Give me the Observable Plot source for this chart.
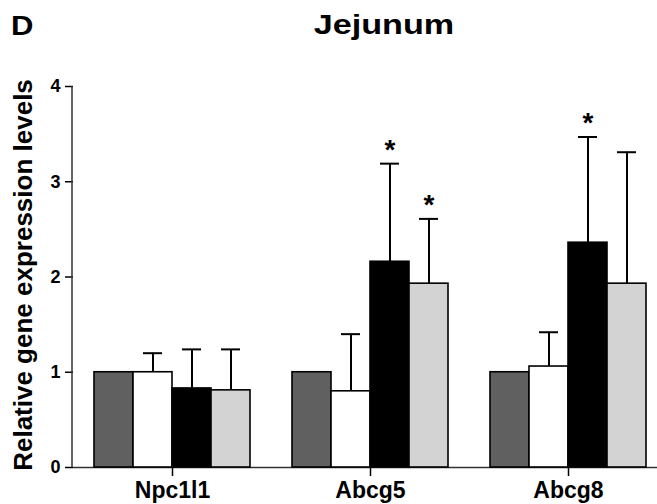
<!DOCTYPE html>
<html>
<head>
<meta charset="utf-8">
<script src="https://cdn.jsdelivr.net/npm/d3@7"></script>
<script src="https://cdn.jsdelivr.net/npm/@observablehq/plot@0.6"></script>
<style>
  body { margin: 0; background: #fff; }
  #wrap { position: relative; width: 657px; height: 504px; overflow: hidden; font-family: Arial, "Liberation Sans", sans-serif; background: #fff; }
  #panel { position: absolute; left: 11px; top: 13px; font-size: 27px; line-height: 27px; font-weight: bold; transform: scaleX(1.15); transform-origin: left center; }
  #title { position: absolute; left: 284px; width: 200px; top: 11px; font-size: 28px; line-height: 28px; font-weight: bold; text-align: center; transform: scaleX(1.22); transform-origin: center center; }
  #chart { position: absolute; left: 0; top: 0; }
</style>
</head>
<body>
<div id="wrap">
  <div id="chart"></div>
  <div id="panel">D</div>
  <div id="title">Jejunum</div>
</div>
<script>
const genes = ["Npc1l1", "Abcg5", "Abcg8"];
const series = ["Group 1", "Group 2", "Group 3", "Group 4"];
const seriesColors = ["#606060", "#ffffff", "#000000", "#d3d3d3"];

const npc1l1Mean = [1.00, 1.00, 0.83, 0.81];
const npc1l1Sem  = [0.00, 0.20, 0.41, 0.43];
const npc1l1Sig  = ["", "", "", ""];

const abcg5Mean = [1.00, 0.80, 2.16, 1.93];
const abcg5Sem  = [0.00, 0.60, 1.03, 0.68];
const abcg5Sig  = ["", "", "*", "*"];

const abcg8Mean = [1.00, 1.06, 2.36, 1.93];
const abcg8Sem  = [0.00, 0.36, 1.11, 1.38];
const abcg8Sig  = ["", "", "*", ""];

const yTicks = [0, 1, 2, 3, 4];
const yLabel = "Relative gene expression levels";

const means = [npc1l1Mean, abcg5Mean, abcg8Mean];
const sems = [npc1l1Sem, abcg5Sem, abcg8Sem];
const sigs = [npc1l1Sig, abcg5Sig, abcg8Sig];

const rows = [];
genes.forEach((g, gi) => {
  series.forEach((s, si) => {
    rows.push({gene: g, series: s, mean: means[gi][si], sem: sems[gi][si], sig: sigs[gi][si]});
  });
});
const errRows = rows.filter(d => d.sem > 0);
const sigRows = rows.filter(d => d.sig);

const font = 'Arial, "Liberation Sans", sans-serif';

const chart = Plot.plot({
  width: 657,
  height: 504,
  marginTop: 86,
  marginBottom: 37,
  marginLeft: 72,
  marginRight: 0,
  style: {fontFamily: font, background: "transparent", color: "#000"},
  fx: {domain: genes, range: [72, 667], paddingInner: 0, paddingOuter: 0, label: null},
  x: {domain: series, paddingInner: 0, paddingOuter: 0.52, axis: null},
  y: {domain: [0, 4], label: null, axis: null},
  color: {domain: series, range: seriesColors},
  marks: [
    Plot.ruleY([0], {stroke: "#333", strokeWidth: 1.5}),
    Plot.barY(rows, {fx: "gene", x: "series", y: "mean", fill: "series", stroke: "#000", strokeWidth: 1.6}),
    Plot.ruleX(errRows, {fx: "gene", x: "series", y1: "mean", y2: d => d.mean + d.sem, stroke: "#000", strokeWidth: 2}),
    Plot.tickY(errRows, {fx: "gene", x: "series", y: d => d.mean + d.sem, insetLeft: 10, insetRight: 10, stroke: "#000", strokeWidth: 2}),
    Plot.text(sigRows, {fx: "gene", x: "series", y: d => d.mean + d.sem, text: "sig", fontSize: 28, fontWeight: "bold", dy: -14, fill: "#000"}),
    Plot.axisY({ticks: yTicks, tickSize: 8, tickPadding: 5, fontSize: 18, fontWeight: "bold", label: null, tickFormat: d3.format("d"), stroke: "#000", strokeWidth: 1.5}),
    Plot.axisFx({anchor: "bottom", tickSize: 9, tickPadding: 5, fontSize: 23, fontWeight: "bold", label: null, stroke: "#000", strokeWidth: 1.5}),
    Plot.text([yLabel], {fx: () => genes[0], frameAnchor: "left", textAnchor: "middle", lineAnchor: "middle", dx: -49.5, dy: -2, rotate: -90, fontSize: 26, fontWeight: "bold", fill: "#000"})
  ]
});

// y-axis domain line, placed with the plot's own y scale
const ys = chart.scale("y");
d3.select(chart).append("line")
  .attr("x1", 72).attr("x2", 72)
  .attr("y1", ys.apply(0)).attr("y2", ys.apply(4))
  .attr("stroke", "#333").attr("stroke-width", 1.5);

document.getElementById("chart").appendChild(chart);
</script>
</body>
</html>
